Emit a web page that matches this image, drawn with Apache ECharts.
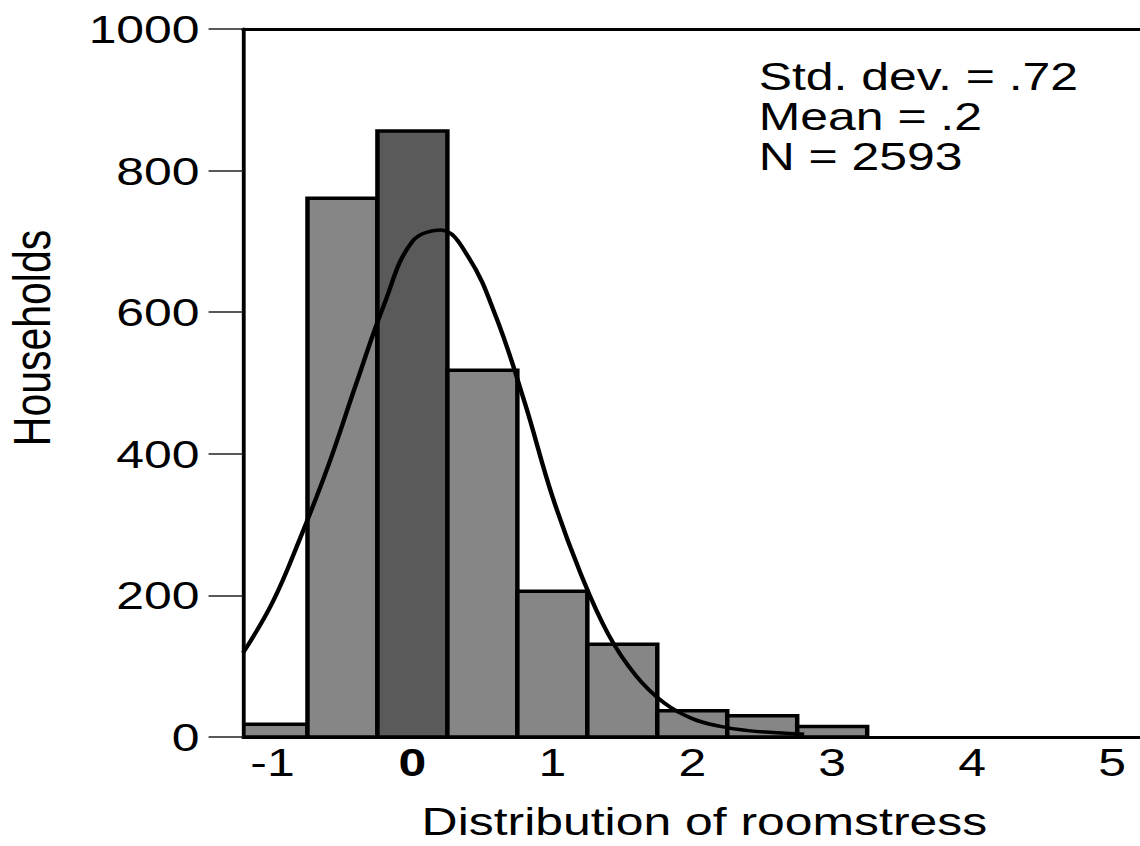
<!DOCTYPE html>
<html>
<head>
<meta charset="utf-8">
<script src="https://cdn.jsdelivr.net/npm/echarts@6/dist/echarts.min.js"></script>
<style>
  html, body { margin: 0; padding: 0; background: #fff; overflow: hidden; }
  #chart { width: 891px; height: 846px; transform: scaleX(1.2795); transform-origin: 0 0; }
</style>
</head>
<body>
<div id="chart"></div>
<script>
// ---- data ----
const binStarts = [-1.25, -0.75, -0.25, 0.25, 0.75, 1.25, 1.75, 2.25, 2.75];
const binEnds   = [-0.75, -0.25, 0.25, 0.75, 1.25, 1.75, 2.25, 2.75, 3.25];
const counts    = [18, 761, 856, 518, 206, 131, 37, 30, 15];
const darkBin   = [0, 0, 1, 0, 0, 0, 0, 0, 0];

const curveX = [-1.21, -1.0, -0.8, -0.6, -0.4, -0.2, 0.0, 0.2, 0.4, 0.6, 0.8, 1.0, 1.2, 1.4, 1.6, 1.8, 2.0, 2.2, 2.4, 2.6, 2.8];
const curveY = [119, 190, 282, 384, 500, 612, 700, 716, 678, 592, 474, 340, 232, 145, 86, 48, 26, 15, 9, 6, 4];

const xTickLabels = [-1, 0, 1, 2, 3, 4, 5];
const yTickLabels = [0, 200, 400, 600, 800, 1000];
const statsLines = ['Std. dev. = .72', 'Mean = .2', 'N = 2593'];
const xTitle = 'Distribution of roomstress';
const yTitle = 'Households';

// ---- build ----
const FONT = "'Liberation Sans', Arial, Helvetica, sans-serif";
const barData = binStarts.map((s, i) => [s, binEnds[i], counts[i], darkBin[i]]);
const lineData = curveX.map((x, i) => [x, curveY[i]]);

const chart = echarts.init(document.getElementById('chart'), null, { renderer: 'svg' });
chart.setOption({
  backgroundColor: '#ffffff',
  animation: false,
  grid: { left: 190, right: 0, top: 29, bottom: 109, outerBoundsMode: 'none' },
  xAxis: [
    {
      type: 'value', min: -1.21, max: 5.2,
      axisLine: { show: true, onZero: false, lineStyle: { color: '#000', width: 3 } },
      axisTick: { show: false },
      splitLine: { show: false },
      axisLabel: {
        customValues: xTickLabels,
        margin: 6, fontSize: 39, color: '#000', fontFamily: FONT,
        formatter: v => (v === 0 ? '{b|0}' : String(v)),
        rich: { b: { fontWeight: 'bold', fontSize: 39, fontFamily: FONT, color: '#000' } }
      },
      name: xTitle, nameLocation: 'middle', nameGap: 65,
      nameTextStyle: { fontSize: 39, color: '#000', fontFamily: FONT, padding: [0, 0, 0, 20] },
      z: 5
    },
    {
      type: 'value', min: -1.21, max: 5.2, position: 'top',
      axisLine: { show: true, onZero: false, lineStyle: { color: '#000', width: 3 } },
      axisTick: { show: false }, axisLabel: { show: false }, splitLine: { show: false },
      z: 5
    }
  ],
  yAxis: {
    type: 'value', min: 0, max: 1000, interval: 200,
    axisLine: { show: true, onZero: false, lineStyle: { color: '#000', width: 3 } },
    axisTick: { show: true, length: 27, lineStyle: { color: '#222', width: 1.5 } },
    splitLine: { show: false },
    axisLabel: {
      margin: 34, fontSize: 39, color: '#000', fontFamily: FONT,
      customValues: yTickLabels,
      formatter: v => String(v)
    },
    name: yTitle, nameLocation: 'middle', nameGap: 145, nameRotate: 90,
    nameTextStyle: { fontSize: 41, color: '#000', fontFamily: FONT, padding: [0, 0, 0, 90] },
    z: 5
  },
  graphic: [{
    type: 'text', left: 593, top: 56, z: 10,
    style: { text: statsLines.join('\n'), fontSize: 39, lineHeight: 40, fontFamily: FONT, fill: '#000' }
  }],
  series: [
    {
      type: 'custom', clip: true, xAxisIndex: 0,
      encode: { x: [0, 1], y: 2 },
      data: barData,
      renderItem: function (params, api) {
        const p0 = api.coord([api.value(0), api.value(2)]);
        const p1 = api.coord([api.value(1), 0]);
        return {
          type: 'rect',
          shape: { x: p0[0], y: p0[1], width: p1[0] - p0[0], height: p1[1] - p0[1] },
          style: { fill: api.value(3) ? '#5a5a5a' : '#868686', stroke: '#000', lineWidth: 3.5 }
        };
      },
      z: 2
    },
    {
      type: 'line', xAxisIndex: 0, data: lineData, smooth: 0.4,
      showSymbol: false, symbol: 'none', clip: true,
      lineStyle: { color: '#000', width: 3.5 },
      z: 4
    }
  ]
});
</script>
</body>
</html>
